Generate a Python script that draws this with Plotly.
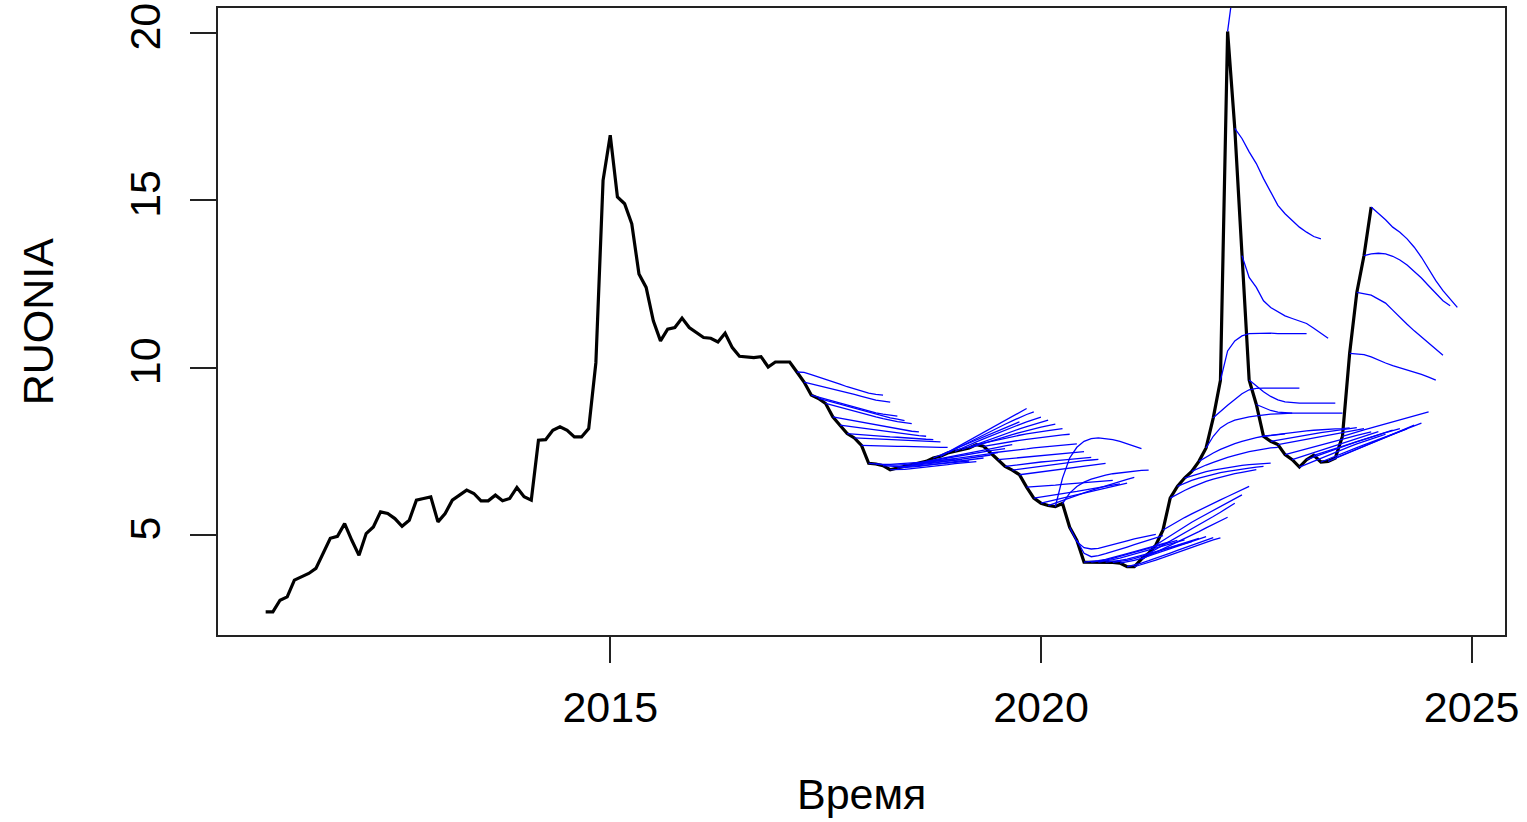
import plotly.graph_objects as go

# Monthly RUONIA, Jan 2011 .. Nov 2023
START_YEAR, START_MONTH = 2011, 1
ruonia = [
    2.70, 2.70, 3.05, 3.15, 3.65, 3.75, 3.85, 4.00, 4.45, 4.90, 4.96, 5.34,      # 2011
    4.84, 4.39, 5.04, 5.24, 5.69, 5.64, 5.49, 5.26, 5.44, 6.04, 6.09, 6.14,      # 2012
    5.39, 5.64, 6.04, 6.19, 6.34, 6.24, 6.02, 6.02, 6.19, 6.02, 6.09, 6.42,      # 2013
    6.14, 6.04, 7.83, 7.85, 8.13, 8.23, 8.13, 7.93, 7.93, 8.18, 10.15, 15.60,    # 2014
    16.95, 15.10, 14.90, 14.30, 12.80, 12.40, 11.40, 10.80, 11.15, 11.20, 11.48, 11.20,  # 2015
    11.06, 10.90, 10.88, 10.77, 11.03, 10.60, 10.34, 10.33, 10.30, 10.33, 10.02, 10.17,  # 2016
    10.17, 10.17, 9.87, 9.57, 9.18, 9.08, 8.93, 8.53, 8.28, 8.03, 7.90, 7.68,    # 2017
    7.14, 7.12, 7.07, 6.95, 7.00, 7.05, 7.10, 7.15, 7.20, 7.30, 7.35, 7.45,      # 2018
    7.50, 7.55, 7.60, 7.70, 7.65, 7.45, 7.25, 7.05, 6.94, 6.80, 6.43, 6.10,      # 2019
    5.95, 5.88, 5.85, 5.94, 5.23, 4.84, 4.19, 4.19, 4.19, 4.19, 4.18, 4.16,      # 2020
    4.05, 4.05, 4.28, 4.45, 4.70, 5.15, 6.10, 6.45, 6.70, 6.90, 7.20, 7.60,      # 2021
    8.50, 9.62, 20.05, 17.15, 13.35, 9.63, 8.90, 7.95, 7.80, 7.70, 7.40, 7.25,   # 2022
    7.03, 7.25, 7.38, 7.18, 7.20, 7.30, 7.95, 10.43, 12.25, 13.35, 14.80,        # 2023
]

# 12-month-ahead forecasts, one per origin month, first origin Mar 2017
FIRST_ORIGIN_YEAR, FIRST_ORIGIN_MONTH = 2017, 3

fc_2017 = [  # Mar .. Dec
    [9.86, 9.79, 9.72, 9.66, 9.60, 9.51, 9.43, 9.36, 9.29, 9.24, 9.20, 9.18],
    [9.52, 9.47, 9.42, 9.37, 9.32, 9.26, 9.20, 9.14, 9.08, 9.03, 9.00, 8.97],
    [9.12, 9.06, 9.00, 8.94, 8.88, 8.82, 8.76, 8.70, 8.65, 8.61, 8.58, 8.55],
    [9.03, 8.97, 8.91, 8.85, 8.79, 8.73, 8.67, 8.61, 8.55, 8.50, 8.46, 8.42],
    [8.87, 8.81, 8.75, 8.70, 8.64, 8.58, 8.53, 8.48, 8.43, 8.39, 8.36, 8.33],
    [8.49, 8.45, 8.41, 8.37, 8.33, 8.29, 8.25, 8.21, 8.17, 8.13, 8.10, 8.08],
    [8.25, 8.22, 8.19, 8.16, 8.13, 8.10, 8.07, 8.04, 8.01, 7.99, 7.97, 7.95],
    [8.01, 7.99, 7.98, 7.96, 7.95, 7.93, 7.92, 7.90, 7.89, 7.88, 7.86, 7.85],
    [7.89, 7.88, 7.87, 7.86, 7.85, 7.84, 7.83, 7.82, 7.81, 7.80, 7.79, 7.78],
    [7.67, 7.67, 7.66, 7.66, 7.65, 7.65, 7.64, 7.64, 7.63, 7.63, 7.62, 7.62],
]

fc_2018 = [
    [7.12, 7.11, 7.11, 7.12, 7.13, 7.15, 7.17, 7.19, 7.21, 7.23, 7.25, 7.27],
    [7.10, 7.09, 7.09, 7.10, 7.11, 7.13, 7.15, 7.17, 7.19, 7.21, 7.23, 7.25],
    [7.05, 7.04, 7.04, 7.05, 7.07, 7.09, 7.11, 7.13, 7.15, 7.17, 7.19, 7.21],
    [6.95, 6.96, 6.98, 7.00, 7.02, 7.05, 7.08, 7.10, 7.13, 7.15, 7.17, 7.19],
    [7.01, 7.03, 7.05, 7.08, 7.10, 7.13, 7.16, 7.19, 7.22, 7.25, 7.28, 7.30],
    [7.07, 7.09, 7.12, 7.15, 7.18, 7.21, 7.24, 7.27, 7.30, 7.33, 7.36, 7.39],
    [7.13, 7.16, 7.19, 7.22, 7.25, 7.28, 7.31, 7.34, 7.37, 7.40, 7.43, 7.46],
    [7.18, 7.22, 7.26, 7.30, 7.34, 7.37, 7.41, 7.45, 7.48, 7.52, 7.55, 7.58],
    [7.24, 7.28, 7.33, 7.37, 7.42, 7.46, 7.50, 7.54, 7.58, 7.62, 7.66, 7.70],
    [7.39, 7.48, 7.57, 7.66, 7.75, 7.84, 7.93, 8.02, 8.11, 8.20, 8.29, 8.38],
    [7.47, 7.59, 7.71, 7.83, 7.95, 8.07, 8.19, 8.31, 8.43, 8.55, 8.67, 8.78],
    [7.56, 7.67, 7.78, 7.89, 8.00, 8.11, 8.21, 8.31, 8.41, 8.51, 8.60, 8.68],
]

fc_2019 = [
    [7.60, 7.69, 7.78, 7.87, 7.96, 8.05, 8.14, 8.22, 8.30, 8.38, 8.45, 8.52],
    [7.63, 7.71, 7.79, 7.87, 7.95, 8.03, 8.10, 8.17, 8.24, 8.31, 8.37, 8.43],
    [7.67, 7.74, 7.81, 7.88, 7.94, 8.00, 8.06, 8.12, 8.17, 8.22, 8.27, 8.31],
    [7.75, 7.80, 7.85, 7.90, 7.94, 7.98, 8.02, 8.06, 8.09, 8.12, 8.15, 8.18],
    [7.69, 7.73, 7.77, 7.80, 7.83, 7.86, 7.89, 7.92, 7.95, 7.97, 7.99, 8.01],
    [7.47, 7.50, 7.52, 7.55, 7.57, 7.60, 7.62, 7.64, 7.66, 7.68, 7.70, 7.72],
    [7.27, 7.29, 7.31, 7.33, 7.35, 7.37, 7.39, 7.41, 7.43, 7.45, 7.47, 7.49],
    [7.08, 7.11, 7.13, 7.16, 7.18, 7.20, 7.22, 7.24, 7.26, 7.28, 7.30, 7.32],
    [6.97, 7.00, 7.03, 7.06, 7.09, 7.12, 7.15, 7.18, 7.20, 7.22, 7.24, 7.26],
    [6.83, 6.86, 6.89, 6.92, 6.95, 6.98, 7.01, 7.04, 7.07, 7.10, 7.12, 7.14],
    [6.44, 6.45, 6.47, 6.49, 6.51, 6.53, 6.55, 6.57, 6.59, 6.61, 6.62, 6.63],
    [6.13, 6.16, 6.19, 6.22, 6.26, 6.30, 6.34, 6.38, 6.42, 6.46, 6.50, 6.53],
]

fc_2020 = [
    [6.00, 6.05, 6.10, 6.15, 6.20, 6.25, 6.30, 6.35, 6.40, 6.45, 6.50, 6.55],
    [5.96, 6.04, 6.12, 6.19, 6.26, 6.33, 6.40, 6.47, 6.54, 6.60, 6.66, 6.72],
    [6.70, 7.30, 7.62, 7.80, 7.88, 7.90, 7.88, 7.85, 7.80, 7.73, 7.66, 7.58],
    [6.25, 6.45, 6.58, 6.67, 6.74, 6.79, 6.83, 6.86, 6.89, 6.91, 6.93, 6.94],
    [4.80, 4.62, 4.58, 4.60, 4.65, 4.70, 4.76, 4.82, 4.88, 4.93, 4.98, 5.02],
    [4.45, 4.35, 4.38, 4.44, 4.50, 4.57, 4.64, 4.71, 4.78, 4.85, 4.92, 4.98],
    [4.20, 4.23, 4.27, 4.32, 4.38, 4.44, 4.50, 4.56, 4.62, 4.68, 4.74, 4.80],
    [4.21, 4.25, 4.30, 4.36, 4.42, 4.48, 4.54, 4.60, 4.66, 4.72, 4.78, 4.84],
    [4.22, 4.26, 4.31, 4.37, 4.43, 4.49, 4.55, 4.61, 4.67, 4.73, 4.79, 4.85],
    [4.21, 4.24, 4.28, 4.33, 4.38, 4.44, 4.50, 4.56, 4.62, 4.68, 4.74, 4.80],
    [4.20, 4.24, 4.29, 4.35, 4.42, 4.49, 4.56, 4.63, 4.70, 4.77, 4.84, 4.90],
    [4.19, 4.24, 4.30, 4.37, 4.44, 4.52, 4.60, 4.67, 4.74, 4.81, 4.88, 4.95],
]

fc_2021 = [
    [4.10, 4.16, 4.23, 4.30, 4.38, 4.46, 4.54, 4.62, 4.70, 4.78, 4.85, 4.92],
    [4.11, 4.18, 4.25, 4.32, 4.40, 4.48, 4.56, 4.64, 4.71, 4.78, 4.85, 4.91],
    [4.38, 4.48, 4.58, 4.68, 4.79, 4.89, 5.00, 5.10, 5.21, 5.32, 5.42, 5.53],
    [4.57, 4.69, 4.81, 4.93, 5.05, 5.17, 5.29, 5.42, 5.55, 5.68, 5.81, 5.95],
    [4.84, 4.98, 5.12, 5.25, 5.38, 5.50, 5.62, 5.74, 5.86, 5.98, 6.09, 6.20],
    [5.28, 5.40, 5.52, 5.63, 5.74, 5.85, 5.95, 6.05, 6.15, 6.25, 6.35, 6.45],
    [6.22, 6.33, 6.43, 6.52, 6.60, 6.67, 6.73, 6.78, 6.83, 6.87, 6.91, 6.95],
    [6.55, 6.63, 6.70, 6.76, 6.81, 6.86, 6.90, 6.94, 6.97, 7.00, 7.03, 7.05],
    [6.77, 6.84, 6.89, 6.94, 6.98, 7.02, 7.05, 7.08, 7.10, 7.12, 7.14, 7.15],
    [7.00, 7.09, 7.17, 7.25, 7.32, 7.38, 7.44, 7.49, 7.53, 7.57, 7.60, 7.62],
    [7.33, 7.45, 7.56, 7.65, 7.73, 7.80, 7.86, 7.91, 7.95, 7.98, 8.00, 8.02],
    [7.95, 8.20, 8.34, 8.43, 8.49, 8.53, 8.56, 8.59, 8.61, 8.62, 8.63, 8.64],
]

fc_2022 = [
    [8.70, 8.88, 9.05, 9.22, 9.34, 9.38, 9.39, 9.39, 9.39, 9.39, 9.39, 9.39],
    [10.50, 10.80, 10.95, 11.02, 11.03, 11.03, 11.03, 11.02, 11.02, 11.02, 11.02, 11.02],
    [21.90, 23.30, 24.30, 25.00, 25.40, 25.60, 25.70, 25.70, 25.60, 25.50, 25.30, 25.10],
    [16.85, 16.45, 16.10, 15.65, 15.25, 14.85, 14.60, 14.40, 14.20, 14.05, 13.92, 13.85],
    [12.70, 12.40, 12.00, 11.80, 11.68, 11.55, 11.47, 11.40, 11.32, 11.18, 11.02, 10.88],
    [9.45, 9.28, 9.14, 9.04, 8.98, 8.95, 8.94, 8.94, 8.94, 8.94, 8.94, 8.94],
    [8.80, 8.72, 8.67, 8.65, 8.64, 8.64, 8.64, 8.64, 8.64, 8.64, 8.64, 8.64],
    [7.98, 8.01, 8.04, 8.07, 8.09, 8.11, 8.13, 8.15, 8.16, 8.17, 8.18, 8.20],
    [7.84, 7.88, 7.92, 7.96, 8.00, 8.03, 8.06, 8.09, 8.12, 8.15, 8.18, 8.21],
    [7.74, 7.78, 7.82, 7.86, 7.90, 7.94, 7.98, 8.02, 8.06, 8.10, 8.14, 8.18],
    [7.46, 7.52, 7.58, 7.64, 7.70, 7.76, 7.82, 7.88, 7.93, 7.98, 8.03, 8.08],
    [7.32, 7.39, 7.46, 7.53, 7.60, 7.67, 7.74, 7.81, 7.88, 7.95, 8.02, 8.09],
]

fc_2023 = [  # Jan .. Nov
    [7.12, 7.21, 7.30, 7.39, 7.48, 7.56, 7.64, 7.72, 7.80, 7.87, 7.94, 8.01],
    [7.33, 7.41, 7.49, 7.57, 7.65, 7.72, 7.79, 7.86, 7.93, 8.00, 8.07, 8.13],
    [7.45, 7.52, 7.59, 7.66, 7.73, 7.80, 7.87, 7.94, 8.00, 8.06, 8.12, 8.18],
    [7.27, 7.36, 7.45, 7.53, 7.61, 7.69, 7.77, 7.85, 7.93, 8.01, 8.09, 8.17],
    [7.29, 7.38, 7.47, 7.56, 7.65, 7.74, 7.83, 7.92, 8.01, 8.10, 8.19, 8.28],
    [7.39, 7.48, 7.57, 7.66, 7.75, 7.84, 7.93, 8.02, 8.10, 8.18, 8.26, 8.34],
    [8.02, 8.08, 8.14, 8.20, 8.26, 8.32, 8.38, 8.44, 8.50, 8.56, 8.62, 8.68],
    [10.42, 10.39, 10.32, 10.22, 10.14, 10.06, 10.00, 9.93, 9.88, 9.80, 9.72, 9.63],
    [12.22, 12.17, 12.05, 11.93, 11.72, 11.50, 11.30, 11.10, 10.92, 10.75, 10.56, 10.37],
    [13.40, 13.42, 13.40, 13.33, 13.22, 13.07, 12.88, 12.68, 12.45, 12.22, 12.00, 11.85],
    [14.62, 14.42, 14.20, 14.05, 13.85, 13.60, 13.30, 12.95, 12.60, 12.30, 12.05, 11.80],
]

x_ticks = [2015, 2020, 2025]
y_ticks = [5, 10, 15, 20]
x_title = "Время"
y_title = "RUONIA"

forecasts = fc_2017 + fc_2018 + fc_2019 + fc_2020 + fc_2021 + fc_2022 + fc_2023

t0 = START_YEAR + (START_MONTH - 1) / 12
time = [t0 + i / 12 for i in range(len(ruonia))]
first_idx = (FIRST_ORIGIN_YEAR - START_YEAR) * 12 + (FIRST_ORIGIN_MONTH - START_MONTH)

# every forecast path starts at the observed value of its origin month
fx, fy = [], []
for k, path in enumerate(forecasts):
    i = first_idx + k
    fx += [time[i] + h / 12 for h in range(len(path) + 1)] + [None]
    fy += [ruonia[i]] + path + [None]

# R-style 4% padding of the data range
x_lo = time[0]
x_hi = max(v for v in fx if v is not None)
x_pad = 0.04 * (x_hi - x_lo)
y_lo, y_hi = 2.01, 20.75

FONT = "Liberation Sans, Arial, sans-serif"
FSIZE = 43

fig = go.Figure()
fig.add_trace(go.Scatter(x=time, y=ruonia, mode="lines",
                         line=dict(color="black", width=3.2), hoverinfo="skip"))
fig.add_trace(go.Scatter(x=fx, y=fy, mode="lines", connectgaps=False,
                         line=dict(color="#0000ff", width=1.3), hoverinfo="skip"))

axis_common = dict(showgrid=False, zeroline=False, showline=True, mirror=True,
                   automargin=False,
                   linecolor="#222222", linewidth=2, ticks="outside", ticklen=26,
                   tickwidth=2, tickcolor="#222222",
                   tickfont=dict(family=FONT, size=FSIZE, color="black"))

fig.update_xaxes(range=[x_lo - x_pad, x_hi + x_pad], tickmode="array",
                 tickvals=x_ticks, ticktext=[str(v) for v in x_ticks],
                 ticklabelstandoff=7, **axis_common)
fig.update_yaxes(range=[y_lo, y_hi], tickmode="array", tickvals=y_ticks,
                 ticktext=[str(v) for v in y_ticks], tickangle=-90,
                 ticklabelstandoff=13, **axis_common)

fig.add_annotation(text=x_title, xref="paper", yref="paper", x=0.5, y=-0.254,
                   xanchor="center", yanchor="middle", showarrow=False,
                   font=dict(family=FONT, size=FSIZE, color="black"))
fig.add_annotation(text=y_title, xref="paper", yref="paper", x=-0.140, y=0.5,
                   xanchor="center", yanchor="middle", textangle=-90, showarrow=False,
                   font=dict(family=FONT, size=FSIZE, color="black"))

fig.update_layout(width=1527, height=822, showlegend=False,
                  margin=dict(l=218, r=22, t=8, b=187, autoexpand=False),
                  plot_bgcolor="white", paper_bgcolor="white")

fig.write_html("out.html")
